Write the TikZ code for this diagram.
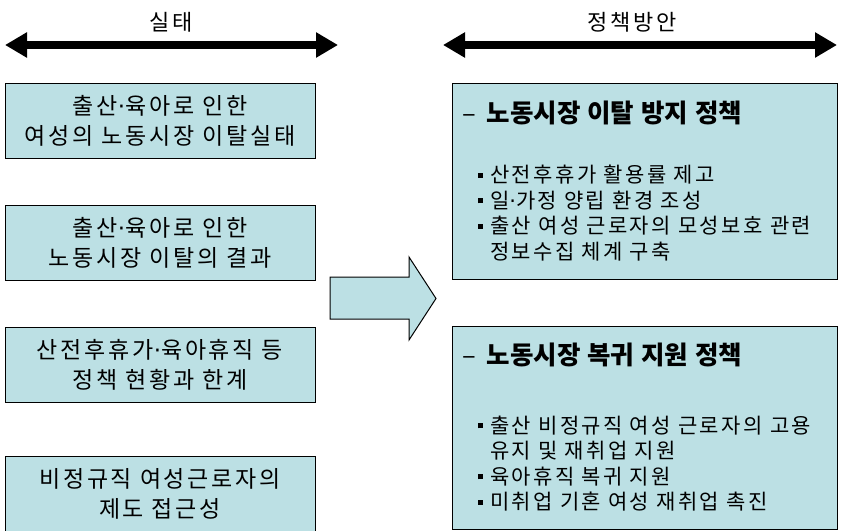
\documentclass[tikz,border=0pt]{standalone}
\usepackage{fontspec}
\setmainfont{Noto Sans CJK KR}
\newfontfamily\widefont[LetterSpace=12]{Noto Sans CJK KR}
\newfontfamily\dotfont{DejaVu Sans}
\usepackage{xcolor}
\usetikzlibrary{arrows.meta,positioning}

\definecolor{boxblue}{RGB}{188,224,228}
\newcommand{\blt}{\hspace*{16pt}\makebox[12pt][l]{\rule[5pt]{5pt}{5pt}}}
\newcommand{\cont}{\hspace*{28pt}}
\newcommand{\mdot}{{\dotfont ·}}

\begin{document}
\begin{tikzpicture}[x=1pt, y=-1pt,
    box/.style={draw, rectangle, fill=boxblue, line width=1pt, align=center,
        minimum width=310pt, minimum height=75pt,
        font=\widefont\fontsize{23}{30}\selectfont},
    plan/.style={draw, rectangle, fill=boxblue, line width=1pt, align=left,
        minimum width=385pt, text width=365pt, inner sep=10pt,
        font=\widefont\fontsize{21}{25.5}\selectfont},
    head/.style={font=\widefont\fontsize{22}{26}\selectfont},
    span/.style={line width=8pt, {Triangle[length=22pt,width=24pt]}-{Triangle[length=22pt,width=24pt]}},
    node distance=46pt
]
    \useasboundingbox (0,0) rectangle (842,530);

    % Headers
    \node[head] (hdrReal) at (171,22) {실태};
    \node[head] (hdrPlan) at (632,22) {정책방안};
    \coordinate (realL) at (5,45);
    \coordinate (realR) at (338,45);
    \coordinate (planL) at (443,45);
    \coordinate (planR) at (837,45);
    \draw[span] (realL) -- (realR);
    \draw[span] (planL) -- (planR);

    % Left column
    \node[box] (real1) at (160,120.5) {출산\mdot 육아로 인한\\여성의 노동시장 이탈실태};
    \node[box, below=of real1] (real2) {출산\mdot 육아로 인한\\노동시장 이탈의 결과};
    \node[box, below=of real2] (real3) {산전후휴가\mdot 육아휴직 등\\정책 현황과 한계};
    \node[box, below=53pt of real3] (real4) {비정규직 여성근로자의\\제도 접근성};

    % Block arrow
    \draw[fill=boxblue, line width=1pt] (330,277) -- (409,277) -- (409,257) -- (436,298.5)
        -- (409,340) -- (409,319) -- (330,319) -- cycle;

    % Right column
    \node[plan, minimum height=196pt] (planA) at (644.5,181) {
        {\normalfont\fontsize{25.5}{30}\selectfont –\hspace{4pt} \bfseries 노동시장 이탈 방지 정책}\\[35pt]
        \blt 산전후휴가 활용률 제고\\
        \blt 일\mdot 가정 양립 환경 조성\\
        \blt 출산 여성 근로자의 모성보호 관련\\
        \cont 정보수집 체계 구축
    };
    \node[plan, minimum height=203pt, below=of planA] (planB) {
        {\normalfont\fontsize{25.5}{30}\selectfont –\hspace{4pt} \bfseries 노동시장 복귀 지원 정책}\\[43pt]
        \blt 출산 비정규직 여성 근로자의 고용\\
        \cont 유지 및 재취업 지원\\
        \blt 육아휴직 복귀 지원\\
        \blt 미취업 기혼 여성 재취업 촉진
    };
\end{tikzpicture}
\end{document}
